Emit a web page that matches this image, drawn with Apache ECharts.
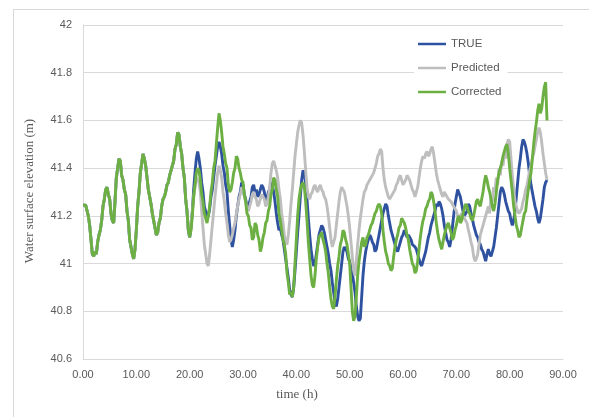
<!DOCTYPE html>
<html>
<head>
<meta charset="utf-8">
<script src="https://cdn.jsdelivr.net/npm/echarts@6/dist/echarts.min.js"></script>
<style>
  html, body { margin: 0; padding: 0; background: #fff; }
  #chart { width: 589px; height: 417px; }
</style>
</head>
<body>
<div id="chart"></div>
<script>
// Water surface elevation (m), one sample every quarter hour from t = 0 h
const sampleStepHours = 0.25;

const seriesNames = ['TRUE', 'Predicted', 'Corrected'];

// 0 h – 19.75 h: all three records coincide
const commonLevel = [
  41.245, 41.25, 41.245, 41.24, 41.20, 41.16, 41.10, 41.04, 41.03, 41.05,
  41.04, 41.09, 41.12, 41.14, 41.18, 41.24, 41.27, 41.31, 41.32, 41.29,
  41.27, 41.21, 41.18, 41.17, 41.26, 41.36, 41.40, 41.44, 41.43, 41.37,
  41.35, 41.31, 41.29, 41.22, 41.18, 41.10, 41.07, 41.04, 41.02, 41.06,
  41.14, 41.24, 41.30, 41.38, 41.42, 41.46, 41.44, 41.41, 41.36, 41.31,
  41.28, 41.25, 41.21, 41.18, 41.15, 41.12, 41.13, 41.17, 41.19, 41.24,
  41.27, 41.28, 41.30, 41.33, 41.34, 41.37, 41.39, 41.41, 41.43, 41.48,
  41.50, 41.55, 41.54, 41.49, 41.46, 41.40, 41.36, 41.27, 41.22, 41.14
];

// 20 h onward, two hours per row
const trueLevel = [
  41.11, 41.15, 41.22, 41.31, 41.38, 41.44, 41.47, 41.44,
  41.40, 41.34, 41.30, 41.24, 41.22, 41.19, 41.20, 41.23,
  41.28, 41.31, 41.36, 41.41, 41.45, 41.49, 41.51, 41.49,
  41.46, 41.41, 41.38, 41.33, 41.30, 41.22, 41.16, 41.10,
  41.07, 41.10, 41.14, 41.20, 41.24, 41.28, 41.30, 41.34,
  41.33, 41.29, 41.27, 41.24, 41.23, 41.26, 41.28, 41.32,
  41.33, 41.30, 41.31, 41.28, 41.29, 41.31, 41.33, 41.32,
  41.30, 41.26, 41.27, 41.30, 41.31, 41.34, 41.33, 41.30,
  41.26, 41.21, 41.17, 41.14, 41.15, 41.12, 41.10, 41.06,
  41.02, 40.98, 40.94, 40.89, 40.87, 40.86, 40.90, 40.97,
  41.05, 41.13, 41.20, 41.28, 41.35, 41.39, 41.38, 41.33,
  41.27, 41.19, 41.12, 41.06, 41.02, 40.99, 41.00, 41.04,
  41.08, 41.12, 41.14, 41.16, 41.15, 41.13, 41.10, 41.07,
  41.04, 41.00, 40.97, 40.92, 40.88, 40.84, 40.82, 40.85,
  40.90, 40.95, 41.00, 41.05, 41.07, 41.06, 41.05, 41.02,
  41.01, 40.98, 40.96, 40.92, 40.88, 40.82, 40.78, 40.76,
  40.77, 40.86, 40.95, 41.01, 41.05, 41.08, 41.10, 41.12,
  41.11, 41.09, 41.08, 41.05, 41.06, 41.09, 41.12, 41.15,
  41.18, 41.21, 41.23, 41.25, 41.24, 41.20, 41.17, 41.14,
  41.12, 41.10, 41.08, 41.06, 41.05, 41.07, 41.09, 41.11,
  41.12, 41.14, 41.13, 41.11, 41.12, 41.11, 41.10, 41.08,
  41.08, 41.07, 41.06, 41.04, 41.02, 41.00, 40.99, 41.01,
  41.03, 41.05, 41.08, 41.11, 41.13, 41.16, 41.18, 41.20,
  41.22, 41.25, 41.24, 41.26, 41.25, 41.23, 41.20, 41.16,
  41.13, 41.10, 41.09, 41.07, 41.10, 41.15, 41.20, 41.25,
  41.28, 41.31, 41.31, 41.28, 41.25, 41.22, 41.20, 41.21,
  41.22, 41.25, 41.24, 41.21, 41.19, 41.16, 41.14, 41.12,
  41.11, 41.09, 41.08, 41.06, 41.05, 41.03, 41.01, 41.04,
  41.06, 41.04, 41.03, 41.05, 41.07, 41.11, 41.15, 41.20,
  41.25, 41.30, 41.32, 41.31, 41.29, 41.26, 41.24, 41.22,
  41.21, 41.18, 41.16, 41.18, 41.22, 41.28, 41.34, 41.40,
  41.44, 41.49, 41.52, 41.51, 41.49, 41.46, 41.42, 41.37,
  41.33, 41.30, 41.27, 41.24, 41.22, 41.19, 41.17, 41.19,
  41.23, 41.27, 41.32, 41.34, 41.35
];

const predictedLevel = [
  41.12, 41.16, 41.22, 41.28, 41.32, 41.36, 41.36, 41.34,
  41.30, 41.22, 41.15, 41.08, 41.04, 41.00, 40.99, 41.04,
  41.10, 41.16, 41.22, 41.28, 41.33, 41.38, 41.41, 41.39,
  41.36, 41.30, 41.26, 41.21, 41.17, 41.12, 41.09, 41.10,
  41.12, 41.15, 41.17, 41.21, 41.24, 41.27, 41.29, 41.32,
  41.31, 41.28, 41.26, 41.23, 41.22, 41.24, 41.26, 41.29,
  41.30, 41.28, 41.27, 41.24, 41.25, 41.27, 41.29, 41.28,
  41.27, 41.24, 41.25, 41.28, 41.32, 41.38, 41.42, 41.43,
  41.41, 41.39, 41.36, 41.31, 41.27, 41.21, 41.17, 41.12,
  41.09, 41.08, 41.12, 41.18, 41.25, 41.31, 41.38, 41.45,
  41.50, 41.55, 41.58, 41.60, 41.59, 41.54, 41.47, 41.39,
  41.32, 41.28, 41.27, 41.29, 41.30, 41.32, 41.33, 41.31,
  41.30, 41.32, 41.33, 41.31, 41.30, 41.28, 41.27, 41.24,
  41.20, 41.15, 41.10, 41.07, 41.07, 41.11, 41.16, 41.21,
  41.26, 41.30, 41.32, 41.31, 41.30, 41.27, 41.24, 41.20,
  41.15, 41.09, 41.03, 40.97, 40.95, 41.01, 41.08, 41.14,
  41.19, 41.23, 41.27, 41.30, 41.31, 41.33, 41.33, 41.35,
  41.36, 41.36, 41.38, 41.40, 41.42, 41.45, 41.46, 41.48,
  41.47, 41.40, 41.35, 41.32, 41.30, 41.28, 41.27, 41.27,
  41.29, 41.30, 41.31, 41.33, 41.34, 41.36, 41.37, 41.35,
  41.33, 41.34, 41.35, 41.37, 41.36, 41.35, 41.33, 41.31,
  41.30, 41.28, 41.28, 41.32, 41.36, 41.40, 41.43, 41.45,
  41.44, 41.46, 41.47, 41.45, 41.46, 41.48, 41.49, 41.46,
  41.42, 41.38, 41.35, 41.33, 41.31, 41.29, 41.28, 41.30,
  41.29, 41.28, 41.27, 41.27, 41.26, 41.25, 41.25, 41.23,
  41.22, 41.20, 41.19, 41.20, 41.21, 41.20, 41.19, 41.18,
  41.17, 41.14, 41.12, 41.09, 41.07, 41.03, 41.01, 41.02,
  41.04, 41.08, 41.12, 41.14, 41.16, 41.18, 41.20, 41.22,
  41.24, 41.21, 41.28, 41.26, 41.32, 41.30, 41.36, 41.33,
  41.40, 41.37, 41.43, 41.41, 41.46, 41.44, 41.50, 41.52,
  41.51, 41.44, 41.37, 41.31, 41.26, 41.24, 41.22, 41.21,
  41.21, 41.23, 41.26, 41.28, 41.31, 41.33, 41.36, 41.39,
  41.41, 41.44, 41.46, 41.49, 41.52, 41.55, 41.57, 41.55,
  41.51, 41.46, 41.42, 41.38, 41.35
];

const correctedLevel = [
  41.11, 41.14, 41.20, 41.28, 41.33, 41.38, 41.40, 41.39,
  41.35, 41.29, 41.26, 41.21, 41.19, 41.17, 41.20, 41.24,
  41.30, 41.34, 41.40, 41.43, 41.50, 41.57, 41.63, 41.60,
  41.55, 41.49, 41.46, 41.42, 41.40, 41.33, 41.30, 41.31,
  41.34, 41.38, 41.40, 41.45, 41.44, 41.40, 41.38, 41.35,
  41.34, 41.29, 41.26, 41.21, 41.20, 41.16, 41.15, 41.10,
  41.11, 41.17, 41.16, 41.12, 41.10, 41.05, 41.07, 41.11,
  41.13, 41.17, 41.18, 41.22, 41.24, 41.29, 41.31, 41.36,
  41.35, 41.31, 41.28, 41.21, 41.18, 41.14, 41.10, 41.08,
  41.04, 40.96, 40.92, 40.87, 40.88, 40.86, 40.90, 41.00,
  41.10, 41.20, 41.27, 41.31, 41.33, 41.34, 41.32, 41.26,
  41.18, 41.09, 41.02, 40.95, 40.91, 40.90, 40.95, 41.02,
  41.07, 41.11, 41.12, 41.13, 41.10, 41.08, 41.05, 41.00,
  40.96, 40.90, 40.85, 40.82, 40.81, 40.86, 40.93, 40.99,
  41.03, 41.08, 41.10, 41.14, 41.13, 41.10, 41.08, 41.04,
  41.00, 40.90, 40.80, 40.76, 40.78, 40.86, 40.95, 41.01,
  41.05, 41.09, 41.11, 41.07, 41.08, 41.11, 41.12, 41.14,
  41.16, 41.17, 41.19, 41.21, 41.22, 41.24, 41.25, 41.24,
  41.21, 41.14, 41.09, 41.05, 41.03, 41.00, 40.99, 40.97,
  40.98, 41.03, 41.07, 41.10, 41.12, 41.15, 41.16, 41.19,
  41.18, 41.17, 41.15, 41.12, 41.10, 41.06, 41.03, 41.00,
  40.99, 40.96, 40.97, 41.01, 41.06, 41.11, 41.15, 41.18,
  41.20, 41.23, 41.24, 41.26, 41.27, 41.30, 41.29, 41.26,
  41.22, 41.17, 41.13, 41.10, 41.08, 41.06, 41.09, 41.12,
  41.14, 41.16, 41.17, 41.15, 41.13, 41.10, 41.11, 41.14,
  41.16, 41.19, 41.20, 41.17, 41.18, 41.21, 41.23, 41.25,
  41.24, 41.22, 41.21, 41.19, 41.18, 41.20, 41.23, 41.26,
  41.27, 41.25, 41.24, 41.27, 41.30, 41.34, 41.37, 41.35,
  41.32, 41.30, 41.27, 41.24, 41.22, 41.25, 41.30, 41.35,
  41.38, 41.40, 41.42, 41.45, 41.47, 41.49, 41.50, 41.46,
  41.40, 41.35, 41.30, 41.24, 41.20, 41.16, 41.14, 41.11,
  41.12, 41.15, 41.18, 41.21, 41.22, 41.27, 41.31, 41.35,
  41.38, 41.44, 41.50, 41.55, 41.59, 41.64, 41.67, 41.63,
  41.65, 41.70, 41.74, 41.76, 41.60
];

const xTicks = { min: 0, max: 90, interval: 10 };
const yTicks = { min: 40.6, max: 42, interval: 0.2 };

const seriesColors = ['#2F52A0', '#BEBEBE', '#6CAF42'];
const tickFont = 'Liberation Sans, Arial, sans-serif';
const titleFont = 'Liberation Serif, Times New Roman, serif';
const textGray = '#595959';
const gridGray = '#D9D9D9';

function toPairs(values) {
  return commonLevel.concat(values).map((v, i) => [i * sampleStepHours, v]);
}

const chart = echarts.init(document.getElementById('chart'), null, { renderer: 'canvas' });

chart.setOption({
  animation: false,
  backgroundColor: '#ffffff',
  grid: { left: 83, right: 26, top: 25, bottom: 58, containLabel: false },
  legend: {
    orient: 'vertical',
    left: 414,
    top: 33,
    padding: [4, 6, 4, 4],
    backgroundColor: '#ffffff',
    icon: 'rect',
    itemWidth: 28,
    itemHeight: 2.5,
    itemGap: 10,
    textStyle: { fontFamily: tickFont, fontSize: 11.5, lineHeight: 14, color: textGray },
    data: seriesNames
  },
  xAxis: {
    type: 'value',
    min: xTicks.min,
    max: xTicks.max,
    interval: xTicks.interval,
    axisLine: { show: true, lineStyle: { color: gridGray, width: 1 } },
    axisTick: { show: false },
    splitLine: { show: false },
    axisLabel: {
      margin: 10,
      fontFamily: tickFont,
      fontSize: 11,
      color: textGray,
      formatter: v => v.toFixed(2)
    }
  },
  yAxis: {
    type: 'value',
    min: yTicks.min,
    max: yTicks.max,
    interval: yTicks.interval,
    axisLine: { show: true, lineStyle: { color: gridGray, width: 1 } },
    axisTick: { show: false },
    splitLine: { show: true, lineStyle: { color: gridGray, width: 1 } },
    axisLabel: {
      margin: 11,
      fontFamily: tickFont,
      fontSize: 11,
      color: textGray,
      formatter: v => String(Math.round(v * 10) / 10)
    }
  },
  series: seriesNames.map((name, k) => ({
    name: name,
    type: 'line',
    symbol: 'none',
    smooth: false,
    color: seriesColors[k],
    lineStyle: { width: 2.9, color: seriesColors[k] },
    data: toPairs([trueLevel, predictedLevel, correctedLevel][k]),
    z: 2 + k
  })),
  graphic: [
    {
      type: 'rect',
      silent: true,
      shape: { x: 13.5, y: 9.5, width: 600, height: 430 },
      style: { fill: 'none', stroke: gridGray, lineWidth: 1 },
      z: -1
    },
    {
      type: 'text',
      x: 30,
      y: 191,
      rotation: Math.PI / 2,
      style: {
        text: 'Water surface elevation (m)',
        fontFamily: titleFont,
        fontSize: 13,
        fill: textGray,
        align: 'center',
        verticalAlign: 'middle'
      }
    },
    {
      type: 'text',
      x: 297,
      y: 395,
      style: {
        text: 'time (h)',
        fontFamily: titleFont,
        fontSize: 13,
        fill: textGray,
        align: 'center',
        verticalAlign: 'middle'
      }
    }
  ]
});
</script>
</body>
</html>
